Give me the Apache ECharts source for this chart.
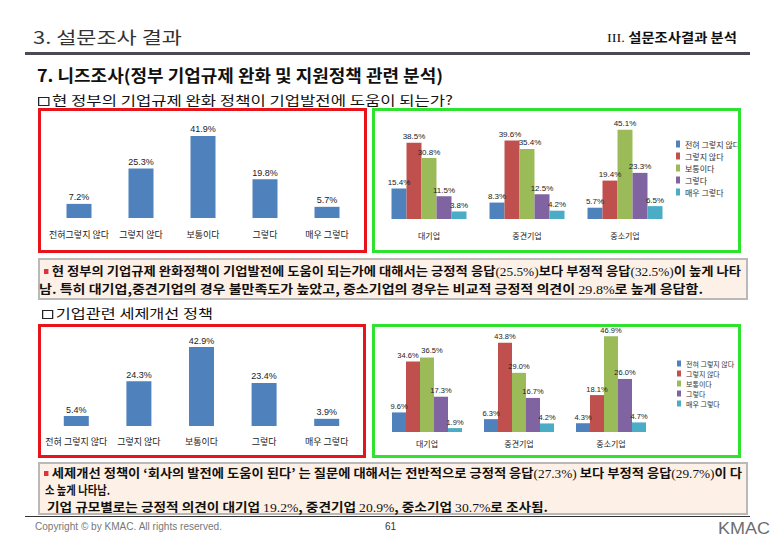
<!DOCTYPE html>
<html><head><meta charset="utf-8">
<script src="https://cdn.jsdelivr.net/npm/echarts/dist/echarts.min.js"></script>
<style>
html,body{margin:0;padding:0;background:#fff;}
#page{position:relative;width:780px;height:540px;overflow:hidden;font-family:"Noto Sans CJK KR","Noto Sans",sans-serif;}
#chart{position:absolute;left:0;top:0;width:780px;height:540px;z-index:2;}
.t{position:absolute;white-space:nowrap;transform-origin:0 50%;line-height:1;z-index:3;}
.frame{position:absolute;box-sizing:border-box;z-index:4;pointer-events:none;}
.note{position:absolute;box-sizing:border-box;background:#fdf0e6;border:2px solid #b9b9b9;z-index:1;}
.sq{display:inline-block;width:9px;height:9px;border:1.5px solid #222;box-sizing:border-box;margin-right:2px;vertical-align:-1px;}
.bul{display:inline-block;width:4px;height:5px;background:#e0303a;margin-right:3px;vertical-align:2px;}
.n{font-family:"Liberation Serif",serif;font-weight:normal;}
.b{font-weight:bold;color:#111;font-size:12px;}
</style></head>
<body>
<div id="page">
  <div class="t" style="left:33px;top:28px;font-size:17px;color:#333;" data-w="149">3. 설문조사 결과</div>
  <div class="t" style="left:607px;top:30px;font-size:13px;font-weight:bold;color:#111;" data-w="130"><span class="n" style="font-weight:normal">III.</span> 설문조사결과 분석</div>
  <div style="position:absolute;left:25px;top:52px;width:725px;height:3px;background:#4a4a56"></div>
  <div class="t" style="left:37px;top:66px;font-size:17px;font-weight:bold;color:#111" data-w="406">7. 니즈조사(정부 기업규제 완화 및 지원정책 관련 분석)</div>
  <div class="t" style="left:38px;top:93px;font-size:13px;color:#111" data-w="415"><span class="sq"></span>현 정부의 기업규제 완화 정책이 기업발전에 도움이 되는가?</div>

  <div class="note" style="left:38px;top:258px;width:710px;height:42px;"></div>
  <div class="t b" style="left:44px;top:265px;" data-w="697"><span class="bul"></span>현 정부의 기업규제 완화정책이 기업발전에 도움이 되는가에 대해서는 긍정적 응답<span class="n">(25.5%)</span>보다 부정적 응답<span class="n">(32.5%)</span>이 높게 나타</div>
  <div class="t b" style="left:39px;top:283px;" data-w="664">남. 특히 대기업,중견기업의 경우 불만족도가 높았고, 중소기업의 경우는 비교적 긍정적 의견이 <span class="n">29.8%</span>로 높게 응답함.</div>

  <div class="t" style="left:42px;top:306px;font-size:13px;color:#111" data-w="171"><span class="sq"></span>기업관련 세제개선 정책</div>

  <div class="note" style="left:38px;top:462px;width:710px;height:53px;"></div>
  <div class="t b" style="left:44px;top:467px;" data-w="698"><span class="bul"></span>세제개선 정책이 ‘회사의 발전에 도움이 된다’ 는 질문에 대해서는 전반적으로 긍정적 응답<span class="n">(27.3%)</span> 보다 부정적 응답<span class="n">(29.7%)</span>이 다</div>
  <div class="t b" style="left:45px;top:484px;" data-w="65">소 높게 나타남.</div>
  <div class="t b" style="left:47px;top:501px;" data-w="501">기업 규모별로는 긍정적 의견이 대기업 <span class="n">19.2%</span>, 중견기업 <span class="n">20.9%</span>, 중소기업 <span class="n">30.7%</span>로 조사됨.</div>

  <div style="position:absolute;left:25px;top:516px;width:725px;height:1px;background:#333"></div>
  <div class="t" style="left:35px;top:522px;font-size:10px;color:#777;font-family:'Liberation Sans',sans-serif" data-w="187">Copyright © by KMAC. All rights reserved.</div>
  <div class="t" style="left:385px;top:522px;font-size:10px;color:#333;font-family:'Liberation Sans',sans-serif">61</div>
  <div class="t" style="left:718px;top:520px;font-size:17px;color:#6d6e71;font-family:'Liberation Sans',sans-serif" data-w="52">KMAC</div>

  <div id="chart"></div>
  <div class="frame" style="left:38px;top:108px;width:329px;height:145px;border:3px solid #e8141c"></div>
  <div class="frame" style="left:372px;top:108px;width:369px;height:145px;border:3px solid #2fe22f"></div>
  <div class="frame" style="left:38px;top:324px;width:328px;height:134px;border:3px solid #e8141c"></div>
  <div class="frame" style="left:372px;top:324px;width:369px;height:134px;border:3px solid #2fe22f"></div>
</div>
<script>
// ---- data ----
const answerNames = ['전혀 그렇지 않다','그렇지 않다','보통이다','그렇다','매우 그렇다'];
const q1Categories = ['전혀그렇지 않다','그렇지 않다','보통이다','그렇다','매우 그렇다'];
const q1Total = [7.2, 25.3, 41.9, 19.8, 5.7];
const sizeGroups = ['대기업','중견기업','중소기업'];
const q1Never   = [15.4, 8.3, 5.7];
const q1No      = [38.5, 39.6, 19.4];
const q1Neutral = [30.8, 35.4, 45.1];
const q1Yes     = [11.5, 12.5, 23.3];
const q1Very    = [3.8, 4.2, 6.5];
const q2Categories = ['전혀 그렇지 않다','그렇지 않다','보통이다','그렇다','매우 그렇다'];
const q2Total = [5.4, 24.3, 42.9, 23.4, 3.9];
const q2Never   = [9.6, 6.3, 4.3];
const q2No      = [34.6, 43.8, 18.1];
const q2Neutral = [36.5, 29.0, 46.9];
const q2Yes     = [17.3, 16.7, 26.0];
const q2Very    = [1.9, 4.2, 4.7];

// ---- style ----
const colors = ['#4F81BD','#C0504D','#9BBB59','#8064A2','#4BACC6'];
function valLabel(size){
  return {show:true,position:'top',distance:2,fontSize:size,color:'#222',
    fontFamily:'Liberation Sans, sans-serif',formatter:p=>p.value.toFixed(1)+'%'};
}
function xAx(i,data,margin,fs){
  return {type:'category',gridIndex:i,data:data,axisLine:{show:false},axisTick:{show:false},
    axisLabel:{margin:margin,fontSize:fs,color:'#222',fontFamily:'Noto Sans CJK KR',interval:0}};
}
function yAx(i){return {type:'value',gridIndex:i,min:0,max:50,show:false};}
// label nudges (style only) to keep touching labels readable: [seriesIdx][groupIdx] -> [dx,dy]
function groupSeries(idx, arrays, bw, fs, nudges){
  return arrays.map((arr,k)=>({
    name:answerNames[k],type:'bar',xAxisIndex:idx,yAxisIndex:idx,
    data:arr.map((v,g)=>{
      const key=k+'_'+g;
      return nudges&&nudges[key]?{value:v,label:{offset:nudges[key]}}:v;
    }),
    barWidth:bw,barGap:'0%',itemStyle:{color:colors[k]},label:valLabel(fs)
  }));
}
const chart = echarts.init(document.getElementById('chart'),null,{renderer:'svg'});
chart.setOption({
  animation:false,
  color:colors,
  grid:[
    {left:48,top:120,width:310,height:98},
    {left:380,top:120,width:294,height:99},
    {left:45,top:334,width:313,height:92},
    {left:381,top:330,width:276,height:102}
  ],
  xAxis:[xAx(0,q1Categories,12,9),xAx(1,sizeGroups,12,8),xAx(2,q2Categories,11,9),xAx(3,sizeGroups,7,8)],
  yAxis:[yAx(0),yAx(1),yAx(2),yAx(3)],
  legend:[
    {data:answerNames,orient:'vertical',left:676,top:140,itemWidth:4,itemHeight:7,itemGap:4,padding:0,
     icon:'rect',textStyle:{fontSize:8,lineHeight:8,color:'#333',fontFamily:'Noto Sans CJK KR'},selectedMode:false},
    {data:answerNames,orient:'vertical',left:677,top:360,itemWidth:4,itemHeight:6,itemGap:3,padding:0,
     icon:'rect',textStyle:{fontSize:7,lineHeight:7,color:'#333',fontFamily:'Noto Sans CJK KR'},selectedMode:false}
  ],
  series:[
    {name:'q1',type:'bar',xAxisIndex:0,yAxisIndex:0,data:q1Total,barWidth:25,itemStyle:{color:colors[0]},label:valLabel(9)},
    ...groupSeries(1,[q1Never,q1No,q1Neutral,q1Yes,q1Very],15,8,{'1_1':[-2,0],'2_1':[3,0]}),
    {name:'q2',type:'bar',xAxisIndex:2,yAxisIndex:2,data:q2Total,barWidth:25,itemStyle:{color:colors[0]},label:valLabel(9)},
    ...groupSeries(3,[q2Never,q2No,q2Neutral,q2Yes,q2Very],14,7.5,{'1_0':[-5,0],'2_0':[5,-1]})
  ]
});

function fit(){
  document.querySelectorAll('[data-w]').forEach(el=>{
    el.style.transform='none';
    const w = el.getBoundingClientRect().width;
    el.style.transform='scaleX('+(parseFloat(el.dataset.w)/w)+')';
  });
}
fit();
if(document.fonts&&document.fonts.ready){document.fonts.ready.then(fit);}
</script>
</body></html>
